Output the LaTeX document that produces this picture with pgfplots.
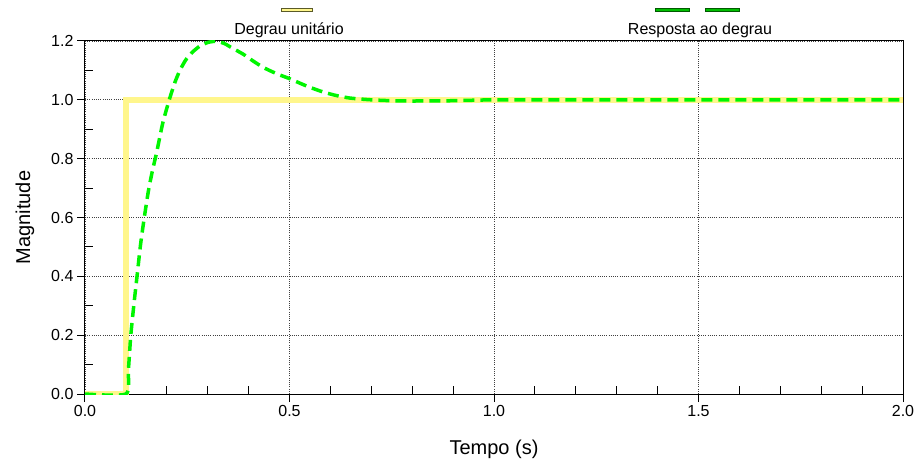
\documentclass[border=0pt]{standalone}
\usepackage{fontspec}
\setmainfont{Liberation Sans}
\usepackage{pgfplots}
\pgfplotsset{compat=1.18}
\definecolor{stepyel}{RGB}{255,246,140}
\definecolor{respgreen}{RGB}{0,245,0}
\definecolor{legolive}{RGB}{90,90,40}
\definecolor{legdkgreen}{RGB}{0,90,0}
\definecolor{leggreen}{RGB}{0,190,0}
\begin{document}
\begin{tikzpicture}
\begin{axis}[
  scale only axis, width=818bp, height=353bp,
  xmin=0, xmax=2, ymin=0, ymax=1.2,
  xtick={0,0.5,1,1.5,2}, ytick={0,0.2,0.4,0.6,0.8,1.0,1.2},
  /pgf/number format/assume math mode=true,
  xticklabel style={/pgf/number format/fixed, /pgf/number format/fixed zerofill, /pgf/number format/precision=1},
  yticklabel style={/pgf/number format/fixed, /pgf/number format/fixed zerofill, /pgf/number format/precision=1},
  minor x tick num=4, minor y tick num=1,
  tick align=outside, major tick length=8bp, minor tick length=8bp,
  minor x tick style={yshift=8bp}, minor y tick style={xshift=8bp},
  xtick pos=bottom, ytick pos=left,
  grid=major, major grid style={dash pattern=on 1bp off 1.2bp, black!75, line width=0.7bp},
  axis line style={line width=1bp},
  tick style={black, line width=1bp},
  tick label style={font=\fontsize{16bp}{19bp}\selectfont},
  label style={font=\fontsize{20bp}{24bp}\selectfont},
  xlabel={Tempo (s)}, ylabel={Magnitude},
  xlabel shift=16bp, ylabel shift=10bp,
]
\addplot[stepyel, line width=6bp, line join=miter] coordinates {(0,0) (0.1,0) (0.1,1) (2,1)};
\addplot[respgreen, line width=3.5bp, dash pattern=on 11bp off 6bp, smooth, tension=0.4] coordinates {
(0,0) (0.1,0) (0.106,0.08) (0.112,0.20) (0.120,0.31) (0.128,0.41) (0.136,0.51)
(0.145,0.60) (0.155,0.69) (0.165,0.76) (0.175,0.82) (0.190,0.92) (0.206,1.00)
(0.220,1.06) (0.232,1.10) (0.246,1.135) (0.261,1.16) (0.280,1.182) (0.300,1.195)
(0.320,1.199) (0.340,1.192) (0.355,1.18) (0.387,1.155) (0.410,1.133) (0.436,1.11)
(0.470,1.088) (0.500,1.072) (0.540,1.048) (0.575,1.030) (0.610,1.016) (0.648,1.006)
(0.700,1.000) (0.750,0.997) (0.800,0.996) (0.900,0.997) (1.000,1.000) (1.200,1.000)
(1.500,1.000) (2.000,1.000)};
\end{axis}
% legend
\draw[legolive, line width=4.5bp] (196bp,384bp) -- (228bp,384bp);
\draw[stepyel, line width=2bp] (197bp,384bp) -- (227bp,384bp);
\node[font=\fontsize{16bp}{19bp}\selectfont] at (204bp,364bp) {Degrau unitário};
\draw[legdkgreen, line width=4.5bp] (570bp,384bp) -- (605bp,384bp);
\draw[leggreen, line width=2bp] (571bp,384bp) -- (604bp,384bp);
\draw[legdkgreen, line width=4.5bp] (620bp,384bp) -- (655bp,384bp);
\draw[leggreen, line width=2bp] (621bp,384bp) -- (654bp,384bp);
\node[font=\fontsize{16bp}{19bp}\selectfont] at (615bp,364bp) {Resposta ao degrau};
\pgfresetboundingbox
\path[use as bounding box] (-85bp,-74bp) rectangle (830bp,394bp);
\end{tikzpicture}
\end{document}
